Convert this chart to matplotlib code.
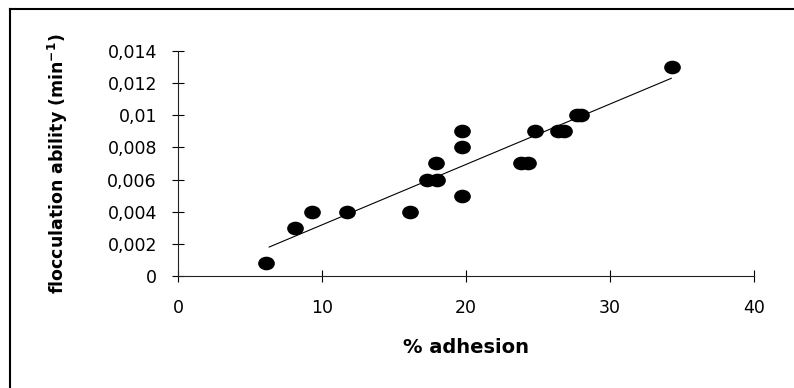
#flocculation ability vs % adhesion
import numpy as np
import matplotlib.pyplot as plt
from matplotlib.markers import MarkerStyle
from matplotlib.transforms import Affine2D

plt.rcParams['font.family'] = ['DejaVu Sans']

# data
adhesion = [6.1, 8.1, 9.3, 11.7, 16.1, 17.3, 18.0, 17.9, 19.7, 19.7, 19.7,
            23.8, 24.3, 24.8, 26.4, 26.8, 27.7, 28.0, 34.3]
floc = [0.0008, 0.003, 0.004, 0.004, 0.004, 0.006, 0.006, 0.007, 0.009, 0.008, 0.005,
        0.007, 0.007, 0.009, 0.009, 0.009, 0.010, 0.010, 0.013]
# trend line ends
trend_x = [6.3, 34.25]
trend_y = [0.0018, 0.0123]

xticks = [0, 10, 20, 30, 40]
yticks = [0, 0.002, 0.004, 0.006, 0.008, 0.01, 0.012, 0.014]
ytick_labels = ['0', '0,002', '0,004', '0,006', '0,008', '0,01', '0,012', '0,014']

fig = plt.figure(figsize=(7.94, 3.88), dpi=100)
ax = fig.add_axes([0.2248, 0.2887, 0.9496 - 0.2248, 0.8686 - 0.2887])

#outer frame (top and left only are visible)
fig.add_artist(plt.Line2D([0.012, 1.0], [0.977, 0.977], color='black', lw=1.5,
                          transform=fig.transFigure))
fig.add_artist(plt.Line2D([0.012, 0.012], [0.0, 0.977], color='black', lw=1.5,
                          transform=fig.transFigure))

ax.plot(trend_x, trend_y, color='black', lw=0.8)
mk = MarkerStyle('o', transform=Affine2D().scale(1.25, 1.0))
ax.plot(adhesion, floc, linestyle='none', marker=mk, markersize=8.8,
        color='black', clip_on=False)

ax.set_xlim(0, 40)
ax.set_ylim(0, 0.014)
ax.set_xticks(xticks)
ax.set_xticklabels([str(t) for t in xticks])
ax.set_yticks(yticks)
ax.set_yticklabels(ytick_labels)
ax.tick_params(direction='inout', length=9, width=0.8, labelsize=12.5)
ax.tick_params(axis='x', pad=12)
ax.tick_params(axis='y', pad=11)

for s in ['top', 'right']:
    ax.spines[s].set_visible(False)
for s in ['left', 'bottom']:
    ax.spines[s].set_linewidth(0.8)
    ax.spines[s].set_color('#222222')

ax.set_xlabel('% adhesion', fontsize=14, fontweight='bold')
ax.set_ylabel('flocculation ability (min$^{\\mathbf{-1}}$)', fontsize=12.5,
              fontweight='bold')
ax.xaxis.set_label_coords(0.5, -0.276)
ax.yaxis.set_label_coords(-0.188, 0.5)

fig.savefig('out.png', dpi=100)
